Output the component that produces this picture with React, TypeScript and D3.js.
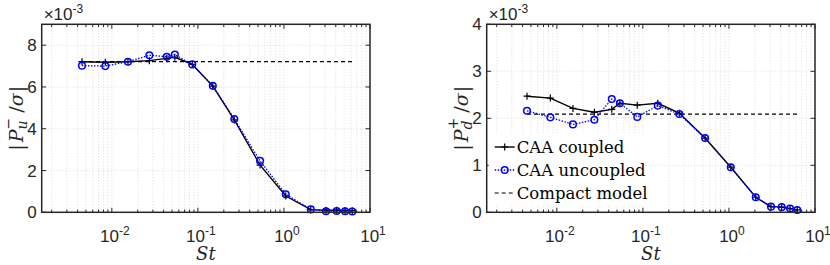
import * as d3 from 'd3';

// Strouhal numbers shared by both panels
const ST = [0.0045, 0.0084, 0.0154, 0.0273, 0.0435, 0.054, 0.086, 0.149, 0.265, 0.528, 1.05, 2.05, 3.08, 4.1, 5.13, 6.22];

// |P_u^- / sigma| (x 1e-3)
const LEFT_COUPLED = [7.21, 7.18, 7.21, 7.26, 7.37, 7.42, 7.08, 6.04, 4.42, 2.26, 0.78, 0.13, 0.1, 0.1, 0.09, 0.08];
const LEFT_UNCOUPLED = [7.02, 7.0, 7.21, 7.52, 7.45, 7.55, 7.08, 6.06, 4.47, 2.46, 0.86, 0.14, 0.05, 0.06, 0.05, 0.04];
const LEFT_COMPACT = 7.21;

// |P_d^+ / sigma| (x 1e-3)
const RIGHT_COUPLED = [2.47, 2.43, 2.21, 2.13, 2.19, 2.32, 2.28, 2.32, 2.11, 1.58, 0.96, 0.32, 0.12, 0.11, 0.08, 0.05];
const RIGHT_UNCOUPLED = [2.16, 2.02, 1.87, 1.97, 2.41, 2.32, 2.03, 2.27, 2.09, 1.58, 0.96, 0.32, 0.12, 0.11, 0.08, 0.05];
const RIGHT_COMPACT = 2.09;

const X_TICKS = [0.01, 0.1, 1, 10];
const X_TICK_EXP = ['-2', '-1', '0', '1'];
const LEFT_Y_TICKS = [0, 2, 4, 6, 8];
const RIGHT_Y_TICKS = [0, 1, 2, 3, 4];
const LEGEND_LABELS = ['CAA coupled', 'CAA uncoupled', 'Compact model'];

const AXIS = '#262626';
const BLUE = '#0000ff';
const SANS = '"Liberation Sans", Arial, sans-serif';
const SERIF = '"DejaVu Serif", serif';

const top = 24.3;
const bottom = 212.3;
const panelW = 328.3;

function Panel({ left, yMax, yTicks, coupled, uncoupled, compact, sub, sup, legend }) {
  const x = d3.scaleLog().domain([Math.pow(10, -2.815), 10]).range([left, left + panelW]);
  const y = d3.scaleLinear().domain([0, yMax]).range([bottom, top]);
  const right = left + panelW;

  const minor = [];
  for (let e = -3; e <= 0; e++) {
    for (let k = 2; k <= 9; k++) {
      const v = k * Math.pow(10, e);
      if (v > x.domain()[0] && v < 10) minor.push(v);
    }
  }

  const line = d3.line().x((d) => x(d[0])).y((d) => y(d[1]));
  const cPts = ST.map((s, i) => [s, coupled[i]]);
  const uPts = ST.map((s, i) => [s, uncoupled[i]]);

  const plus = (cx, cy, k) => (
    <path key={k} d={`M${cx - 3.5},${cy}H${cx + 3.5}M${cx},${cy - 3.5}V${cy + 3.5}`} stroke="#000" strokeWidth={1.2} />
  );
  const circ = (cx, cy, k) => (
    <circle key={k} cx={cx} cy={cy} r={3.3} fill="none" stroke={BLUE} strokeWidth={1.5} />
  );

  const cy = (top + bottom) / 2;
  const lx = left + 8;
  const ly = [147, 170, 193];

  return (
    <g>
      {/* grid */}
      {[...X_TICKS, ...minor].filter((v) => v < 10).map((v, i) => (
        <line key={'gx' + i} x1={x(v)} x2={x(v)} y1={top} y2={bottom} stroke="#d4d4d4" strokeWidth={0.8} strokeDasharray="1 2" />
      ))}
      {yTicks.filter((v) => v > 0 && v < yMax).map((v, i) => (
        <line key={'gy' + i} x1={left} x2={right} y1={y(v)} y2={y(v)} stroke="#d4d4d4" strokeWidth={0.8} strokeDasharray="1 2" />
      ))}

      {/* compact model */}
      <line x1={x(ST[0])} x2={x(ST[ST.length - 1])} y1={y(compact)} y2={y(compact)} stroke="#000" strokeWidth={1.2} strokeDasharray="4 3" />

      {/* coupled */}
      <path d={line(cPts)} fill="none" stroke="#000" strokeWidth={1.4} />
      {cPts.map((p, i) => plus(x(p[0]), y(p[1]), 'c' + i))}

      {/* uncoupled */}
      <path d={line(uPts)} fill="none" stroke={BLUE} strokeWidth={1.3} strokeDasharray="1.5 1.5" />
      {uPts.map((p, i) => circ(x(p[0]), y(p[1]), 'u' + i))}

      {/* box */}
      <rect x={left} y={top} width={panelW} height={bottom - top} fill="none" stroke={AXIS} strokeWidth={1.5} />

      {/* x ticks */}
      {X_TICKS.map((v, i) => (
        <g key={'xt' + i}>
          <line x1={x(v)} x2={x(v)} y1={bottom} y2={bottom - 4.5} stroke={AXIS} strokeWidth={1} />
          <line x1={x(v)} x2={x(v)} y1={top} y2={top + 4.5} stroke={AXIS} strokeWidth={1} />
          <text x={x(v) + 3} y={241.5} textAnchor="middle" style={{ fontFamily: SANS, fontSize: 17 }} fill={AXIS}>
            10<tspan style={{ fontSize: 12 }} dy={-7}>{X_TICK_EXP[i]}</tspan>
          </text>
        </g>
      ))}
      {minor.map((v, i) => (
        <g key={'mt' + i}>
          <line x1={x(v)} x2={x(v)} y1={bottom} y2={bottom - 2.7} stroke={AXIS} strokeWidth={1} />
          <line x1={x(v)} x2={x(v)} y1={top} y2={top + 2.7} stroke={AXIS} strokeWidth={1} />
        </g>
      ))}

      {/* y ticks */}
      {yTicks.map((v, i) => (
        <g key={'yt' + i}>
          <line x1={left} x2={left + 4.5} y1={y(v)} y2={y(v)} stroke={AXIS} strokeWidth={1} />
          <line x1={right} x2={right - 4.5} y1={y(v)} y2={y(v)} stroke={AXIS} strokeWidth={1} />
          <text x={left - 5} y={y(v) + 6} textAnchor="end" style={{ fontFamily: SANS, fontSize: 17 }} fill={AXIS}>{v}</text>
        </g>
      ))}

      {/* exponent */}
      <text x={left + 2} y={20} style={{ fontFamily: SANS, fontSize: 17 }} fill={AXIS}>
        ×10<tspan style={{ fontSize: 12 }} dy={-7}>-3</tspan>
      </text>

      {/* y label */}
      <text transform={`translate(${left - 19},${cy}) rotate(-90)`} textAnchor="middle" style={{ fontFamily: SERIF, fontSize: 19 }} fill={AXIS}>
        |<tspan style={{ fontStyle: 'italic' }} dx={2}>P</tspan>
        <tspan style={{ fontStyle: 'italic', fontSize: 14 }} dy={4}>{sub}</tspan>
        <tspan style={{ fontSize: 14 }} dx={-9} dy={-14}>{sup}</tspan>
        <tspan dx={5} dy={10}>/</tspan>
        <tspan style={{ fontStyle: 'italic' }}>σ</tspan>
        <tspan dx={1}>|</tspan>
      </text>

      {/* x label */}
      <text x={(left + right) / 2} y={259.5} textAnchor="middle" style={{ fontFamily: SERIF, fontSize: 18, fontStyle: 'italic' }} fill={AXIS}>St</text>

      {legend && (
        <g>
          <rect x={left + 2} y={133} width={156} height={72} fill="#fff" />
          <line x1={lx} x2={lx + 20} y1={ly[0]} y2={ly[0]} stroke="#000" strokeWidth={1.4} />
          {plus(lx + 10, ly[0], 'lp')}
          <line x1={lx} x2={lx + 20} y1={ly[1]} y2={ly[1]} stroke={BLUE} strokeWidth={1.3} strokeDasharray="1.5 1.5" />
          {circ(lx + 10, ly[1], 'lc')}
          <line x1={lx} x2={lx + 20} y1={ly[2]} y2={ly[2]} stroke="#000" strokeWidth={1.2} strokeDasharray="4 3" />
          {LEGEND_LABELS.map((t, i) => (
            <text key={'lg' + i} x={lx + 22} y={ly[i] + 6} style={{ fontFamily: SERIF, fontSize: 16.5 }} fill="#000">{t}</text>
          ))}
        </g>
      )}
    </g>
  );
}

export default function App() {
  return (
    <svg width={830} height={265} style={{ position: 'absolute', left: 0, top: 0, background: '#fff' }}>
      <Panel left={41.7} yMax={9} yTicks={LEFT_Y_TICKS} coupled={LEFT_COUPLED} uncoupled={LEFT_UNCOUPLED}
        compact={LEFT_COMPACT} sub="u" sup="−" legend={false} />
      <Panel left={486.7} yMax={4} yTicks={RIGHT_Y_TICKS} coupled={RIGHT_COUPLED} uncoupled={RIGHT_UNCOUPLED}
        compact={RIGHT_COMPACT} sub="d" sup="+" legend={true} />
    </svg>
  );
}
